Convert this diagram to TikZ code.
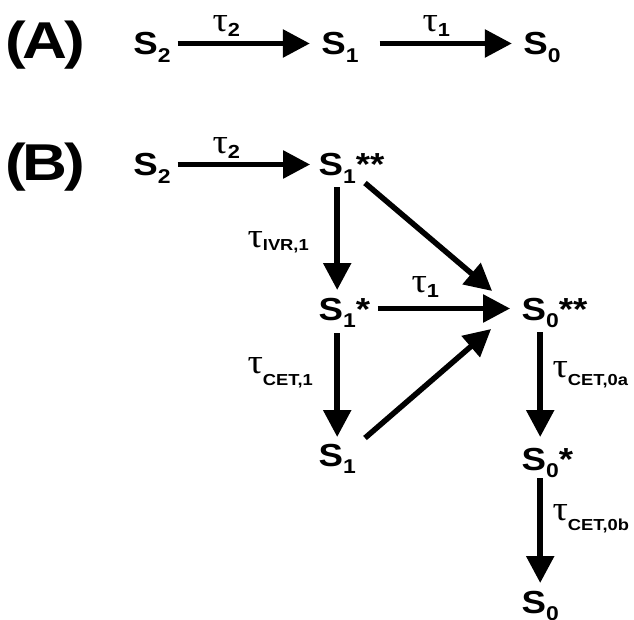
\documentclass[tikz,border=0pt]{standalone}
\usepackage{fontspec}
\usetikzlibrary{arrows.meta}
\newfontfamily\arialb{Liberation Sans}[FakeStretch=1.15]
\newfontfamily\panelf{Liberation Sans}[FakeStretch=1.2]
\newfontfamily\timesf{Liberation Serif}[FakeStretch=1.1]
\newcommand{\ssub}[1]{\raisebox{-7.5bp}{\fontsize{20}{20}\selectfont #1}}
\newcommand{\tlab}[3]{{\timesf\mdseries\fontsize{35}{35}\selectfont τ}\raisebox{-#3bp}{\fontsize{#2}{#2}\selectfont #1}}
\newcommand{\plab}[1]{(\kern-3bp #1\kern-3bp)}
\begin{document}
\begin{tikzpicture}[x=1bp,y=-1bp,
  state/.style={inner sep=0pt, outer sep=0pt, text height=23bp, text depth=0pt,
    font=\arialb\bfseries\fontsize{32}{32}\selectfont, anchor=center},
  tlabel/.style={inner sep=0pt, outer sep=0pt, anchor=base west, font=\arialb\bfseries},
  panel/.style={inner sep=0pt, outer sep=0pt, anchor=base west,
    font=\panelf\bfseries\fontsize{52}{52}\selectfont},
  arr/.style={line width=5.5bp, -{Triangle[length=27bp,width=27bp]}}]
\useasboundingbox (0,0) rectangle (634,620);

% panel labels
\node[panel] (pA) at (5,59) {\plab{A}};
\node[panel] (pB) at (5,181) {\plab{B}};

% (A)
\node[state] (aS2) at (152,43.5) {S\ssub{2}};
\node[state] (aS1) at (340,43.5) {S\ssub{1}};
\node[state] (aS0) at (542,43.5) {S\ssub{0}};
\draw[arr, shorten <=7bp, shorten >=11.5bp] (aS2.east) -- (aS1.west);
\draw[arr, shorten <=21bp, shorten >=11.5bp] (aS1.east) -- (aS0.west);
\node[tlabel] (tA2) at (212.5,32) {\tlab{2}{19}{5}};
\node[tlabel] (tA1) at (422.5,32) {\tlab{1}{19}{5}};

% (B)
\node[state] (bS2) at (152,164.5) {S\ssub{2}};
\node[state] (s1ss) at (337.2,164.5) {S\ssub{1}\rlap{**}};
\node[state] (s1s) at (337.2,308.5) {S\ssub{1}\rlap{*}};
\node[state] (s1b) at (337.2,454.5) {S\ssub{1}};
\node[state] (s0ss) at (540.2,308.5) {S\ssub{0}\rlap{**}};
\node[state] (s0s) at (540.2,458.5) {S\ssub{0}\rlap{*}};
\node[state] (s0b) at (540.2,601.5) {S\ssub{0}};

\draw[arr, shorten <=7bp, shorten >=8.5bp] (bS2.east) -- (s1ss.west);
\draw[arr, shorten <=11bp, shorten >=7bp] (s1ss.south) -- (s1s.north);
\draw[arr, shorten <=13bp, shorten >=6bp] (s1s.south) -- (s1b.north);
\draw[arr, shorten <=22bp, shorten >=11.5bp] (s1s.east) -- (s0ss.west);
\draw[arr] ([shift={(9.2,7)}]s1ss.south east) -- ([shift={(-29.5,-6)}]s0ss.north west);
\draw[arr] ([shift={(9.2,-5)}]s1b.north east) -- ([shift={(-30.5,9)}]s0ss.south west);
\draw[arr, shorten <=12bp, shorten >=10bp] (s0ss.south) -- (s0s.north);
\draw[arr, shorten <=8bp, shorten >=7bp] (s0s.south) -- (s0b.north);

\node[tlabel] (tB2) at (212.5,154) {\tlab{2}{19}{5}};
\node[tlabel] (tIVR) at (247.5,247) {\tlab{IVR,1}{16}{3}};
\node[tlabel] (tB1) at (411.5,292) {\tlab{1}{19}{5}};
\node[tlabel] (tCET1) at (247.5,373) {\tlab{CET,1}{16}{12}};
\node[tlabel] (tCET0a) at (552.5,377) {\tlab{CET,0a}{16}{8}};
\node[tlabel] (tCET0b) at (552.5,520) {\tlab{CET,0b}{16}{10}};
\end{tikzpicture}
\end{document}
